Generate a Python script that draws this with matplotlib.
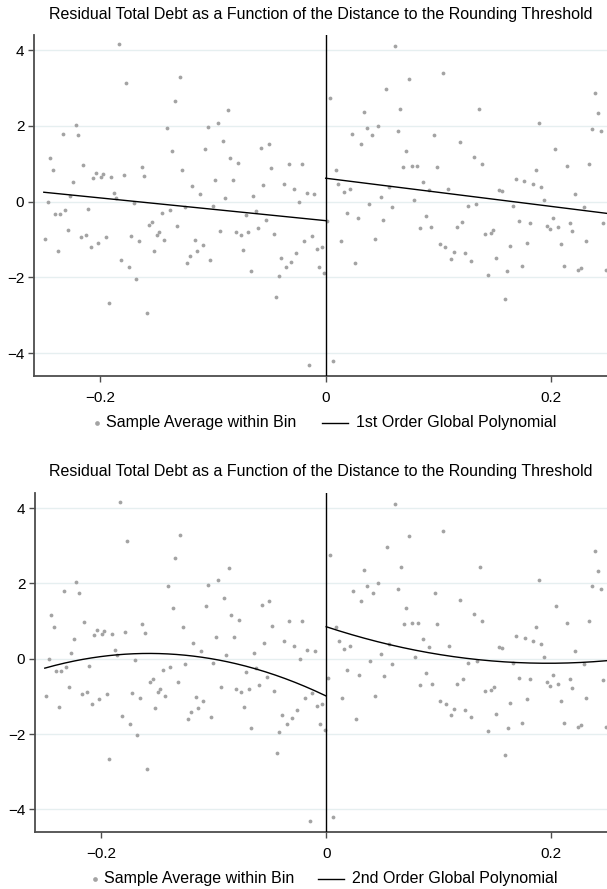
import numpy as np
import matplotlib
matplotlib.use("Agg")
import matplotlib.pyplot as plt
from matplotlib.lines import Line2D

plt.rcParams['font.family'] = ['Liberation Sans', 'DejaVu Sans']
plt.rcParams['axes.unicode_minus'] = True

# ---------------- data ----------------
title = "Residual Total Debt as a Function of the Distance to the Rounding Threshold"
scatter_label = "Sample Average within Bin"
fit_labels = ["1st Order Global Polynomial", "2nd Order Global Polynomial"]

n_bins_left = 111
n_bins_right = 100
x_min, x_cut, x_max = -0.25, 0.0, 0.25

y_left = [-0.99, -0.02, 1.16, 0.83, -0.32, -1.29, -0.32, 1.80, -0.21, -0.75,
          0.16, 0.52, 2.03, 1.75, -0.94, 0.97, -0.88, -0.18, -1.20, 0.62,
          0.76, -1.08, 0.66, 0.74, -0.94, -2.67, 0.66, 0.24, 0.11, 4.15,
          -1.53, 0.71, 3.12, -1.72, -0.91, -0.04, -2.03, -1.05, 0.91, 0.69,
          -2.93, -0.61, -0.53, -1.30, -0.89, -0.80, -0.30, -1.00, 1.94, -0.21,
          1.35, 2.67, -0.63, 3.28, 0.85,
          -0.13, -1.61, -1.42, 0.41, -1.02, -1.30, 0.21, -1.13, 1.39, 1.97,
          -1.55, -0.10, 0.57, 2.08, -0.76, 1.61, 0.10, 2.42, 1.16, 0.57,
          -0.80, 1.02, -0.89, -1.27, -0.35, -0.80, -1.83, 0.16, -0.24, -0.69,
          1.42, 0.43, -0.49, 1.53, 0.88, -0.85, -2.51, -1.95, -1.49, 0.46,
          -1.72, 0.99, -1.58, 0.34, -1.36, -0.02, 0.99, -1.05, 0.24, -4.30,
          -0.91, 0.21, -1.25, -1.72, -1.20, -1.89]

y_right = [-0.52, 2.75, -4.21, 0.85, 0.48, -1.03, 0.26, -0.30, 0.34, 1.80,
           -1.61, -0.44, 1.52, 2.36, 1.94, -0.07, 1.75, -0.98, 2.00, 0.12,
           -0.47, 2.97, 0.40, -0.13, 4.12, 1.86, 2.44, 0.91, 1.35, 3.25,
           0.94, 0.04, 0.94, -0.69, 0.52, -0.38, 0.32, -0.67, 1.75, 0.91,
           -1.11, 3.39, -1.20, 0.34, -1.50, -1.34, -0.66, 1.57, -0.53, -1.36,
           -0.11, -1.56, 1.19, -0.07, 2.44, 0.99, -0.86, -1.93, -0.83, -0.75,
           -1.48, 0.32, 0.29, -2.56, -1.84, -1.17, -0.11, 0.60, -0.52, -1.70,
           0.55, -1.08, -0.55, 0.46, 0.85, 2.08, 0.38, 0.04, -0.63, -0.72,
           -0.44, 1.39, -0.66, -1.11, -1.70, 0.94, -0.55, -0.77, 0.21, -1.81,
           -1.76, -0.13, -1.05, 0.99, 1.92, 2.87, 2.34, 1.86, -0.57, -1.80]

# polynomial fit coefficients (highest power first)
fit1_left = [-3.0, -0.50]
fit1_right = [-3.72, 0.62]
fit2_left = [-45.6, -14.36, -0.99]
fit2_right = [25.0, -9.85, 0.85]

y_ticks = [-4, -2, 0, 2, 4]
x_ticks = [-0.2, 0, 0.2]
x_tick_labels = ["\u22120.2", "0", "0.2"]
y_tick_labels = ["\u22124", "\u22122", "0", "2", "4"]

# ---------------- derived bin centres ----------------
edges_l = np.linspace(x_min, x_cut, n_bins_left + 1)
edges_r = np.linspace(x_cut, x_max, n_bins_right + 1)
x_left = (edges_l[:-1] + edges_l[1:]) / 2
x_right = (edges_r[:-1] + edges_r[1:]) / 2

# ---------------- figure ----------------
W, H = 607, 889
fig = plt.figure(figsize=(W / 100, H / 100), dpi=100)

pt_color = "#a3a3a3"
grid_color = "#e6eff0"
spine_color = "#4d4d4d"


def fx(px):
    return px / W


def fy(py):
    return 1 - py / H


def make_panel(rect, fit_l, fit_r, label, title_y, leg):
    ax = fig.add_axes(rect)
    ax.set_xlim(-0.2587, 0.2495)
    ax.set_ylim(-4.6, 4.4)
    for yt in y_ticks:
        ax.axhline(yt, color=grid_color, lw=1.0, zorder=0)
    ax.scatter(x_left, y_left, s=7.5, color=pt_color, linewidths=0, zorder=2)
    ax.scatter(x_right, y_right, s=7.5, color=pt_color, linewidths=0, zorder=2)
    xl = np.linspace(x_min, x_cut, 200)
    xr = np.linspace(x_cut, x_max, 200)
    ax.plot(xl, np.polyval(fit_l, xl), color="black", lw=1.0, zorder=3)
    ax.plot(xr, np.polyval(fit_r, xr), color="black", lw=1.0, zorder=3)
    ax.axvline(0, color="black", lw=1.0, zorder=3)
    for s in ["top", "right"]:
        ax.spines[s].set_visible(False)
    for s in ["left", "bottom"]:
        ax.spines[s].set_color(spine_color)
        ax.spines[s].set_linewidth(1.3)
    ax.set_xticks(x_ticks)
    ax.set_xticklabels(x_tick_labels)
    ax.set_yticks(y_ticks)
    ax.set_yticklabels(y_tick_labels)
    ax.tick_params(axis="both", direction="out", length=4, width=1.0,
                   color=spine_color, labelsize=11, labelcolor="black")
    ax.tick_params(axis="x", pad=7)
    ax.tick_params(axis="y", pad=3)
    fig.text(0.5 * (rect[0] + rect[0] + rect[2]), title_y, title,
             ha="center", va="center", fontsize=11.5, color="black")
    # legend (drawn in figure pixels)
    dot_x, txt1_x, line_x0, line_x1, txt2_x, ly = leg
    fig.add_artist(Line2D([fx(dot_x)], [fy(ly)], marker="o", ls="none",
                          color=pt_color, markersize=3.4, markeredgewidth=0,
                          transform=fig.transFigure))
    fig.text(fx(txt1_x), fy(ly), scatter_label, ha="left", va="center",
             fontsize=11.5, color="black")
    fig.add_artist(Line2D([fx(line_x0), fx(line_x1)], [fy(ly), fy(ly)],
                          color="black", lw=1.0, transform=fig.transFigure))
    fig.text(fx(txt2_x), fy(ly), label, ha="left", va="center",
             fontsize=11.5, color="black")
    return ax


make_panel([34 / W, 1 - 376 / H, 1 - 34 / W, (376 - 35) / H],
           fit1_left, fit1_right, fit_labels[0],
           fy(14), (97, 106, 322, 348, 356, 423))
make_panel([35 / W, 1 - 832 / H, 1 - 35 / W, (832 - 493) / H],
           fit2_left, fit2_right, fit_labels[1],
           fy(472), (95, 104, 318, 344, 352, 879))

fig.savefig("out.png", dpi=100)
